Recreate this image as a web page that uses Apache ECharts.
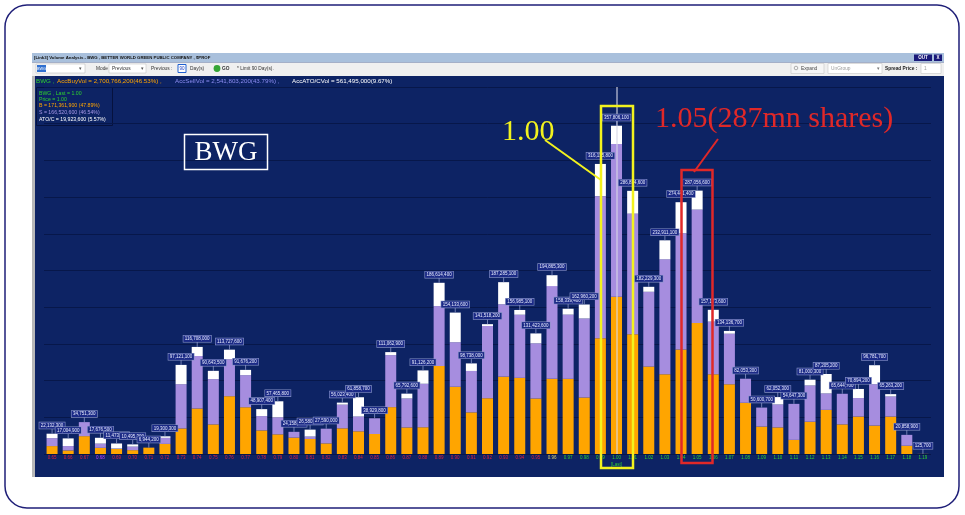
<!DOCTYPE html>
<html><head><meta charset="utf-8">
<script src="https://cdn.jsdelivr.net/npm/echarts@6/dist/echarts.min.js"></script>
<style>html,body{margin:0;padding:0;background:#fff;}#c{width:965px;height:515px;}</style>
</head><body><div id="c"></div>
<script>
// ---- data (shares, millions) ----
const prices = ['0.65','0.66','0.67','0.68','0.69','0.70','0.71','0.72','0.73','0.74','0.75','0.76','0.77','0.78','0.79','0.80','0.81','0.82','0.83','0.84','0.85','0.86','0.87','0.88','0.89','0.90','0.91','0.92','0.93','0.94','0.95','0.96','0.97','0.98','0.99','1.00','1.01','1.02','1.03','1.04','1.05','1.06','1.07','1.08','1.09','1.10','1.11','1.12','1.13','1.14','1.15','1.16','1.17','1.18','1.19'];
const buyM  = [8.63,3.91,19.46,6.72,5.5,4.2,6.944,11.0,27.87,49.6,32.27,63.0,50.97,25.73,21.43,17.88,16.38,11.59,28.01,24.74,21.8,51.09,28.95,29.16,95.9,73.3,45.4,60.8,84.3,83.0,60.5,82.0,81.9,61.6,126.1,171.3619,130.6,95.3,86.9,113.9,142.7,86.9,76.0,55.8,29.9,29.0,15.4,35.2,48.1,32.3,40.8,31.0,40.8,9.0,0.1257];
const sellM = [8.63,4.76,15.29,4.60,0.5,3.85,0,6.56,48.17,57.19,49.31,40.26,34.93,15.6,18.56,6.28,2.66,16.0,25.77,16.08,17.13,56.64,31.58,47.39,65.3,48.5,45.1,78.7,78.9,68.8,60.1,101.0,70.0,86.1,154.9,166.5206,131.4,81.5,125.3,126.7,123.7,57.4,55.1,26.25,20.7,25.0,39.25,39.5,17.9,33.34,20.2,45.1,21.9,11.86,0];
const atoM  = [4.87,8.33,0,6.36,5.47,2.45,0,1.74,21.08,9.92,9.06,10.47,5.78,7.58,17.47,0,7.54,0,2.24,21.04,0,3.33,5.26,14.58,25.41,32.33,8.24,2.02,24.09,5.19,10.82,11.87,6.44,15.26,35.14,19.9236,24.83,5.43,20.71,33.84,20.66,12.87,3.04,0,0,8.05,0,6.3,21.21,0,9.89,20.68,2.56,0,0];
const totals = [22132300,17004900,34751300,17676500,11473000,10495300,6944200,19300300,97121100,116708000,90643500,113727600,91676200,48907400,57465800,24158000,26580200,27590000,56023400,61858700,38929800,111062900,65792600,91126200,186614400,154133600,98738000,141518200,187285100,156985100,131423600,194865300,158339400,162960200,316135800,357806100,286834600,182229300,232911100,274441400,287056600,157173600,134136700,82053300,50600700,62052300,54647300,81000300,87205200,65644700,70894200,96781700,65263200,20858900,125700];
const lastPrice = '1.00';
const prevClose = 0.96;
const floorPrice = 0.68;
const accBuy = '2,700,766,200(46.53%)';
const accSell = '2,541,803,200(43.79%)';
const accAto = '561,495,000(9.67%)';

const M = 1e6;
const fmt = v => Math.round(v).toLocaleString('en-US');
const li = prices.indexOf(lastPrice);
const lb = buyM[li]*M, ls = sellM[li]*M, la = atoM[li]*M, lt = lb+ls+la;
const pct = v => (v/lt*100).toFixed(2)+'%';

const F = 'Liberation Sans';
const SERIF = 'Liberation Serif';
const NAVY = '#0d2364';

function txt(x,y,text,size,fill,extra){
  return Object.assign({type:'text',x:x,y:y,style:Object.assign({text:text,fontSize:size,fontFamily:F,fill:fill,verticalAlign:'middle'},extra||{})});
}

const bg = [
  {type:'rect',shape:{x:5,y:5,width:954,height:503,r:22},style:{fill:'none',stroke:'#1f1f78',lineWidth:1.5}},
  {type:'rect',shape:{x:32,y:53,width:912,height:424},style:{fill:NAVY}},
  {type:'rect',shape:{x:32,y:53,width:912,height:9.5},style:{fill:'#a9c0dc'}},
  {type:'rect',shape:{x:32,y:62.5,width:912,height:13.5},style:{fill:'#f0f0f0'}},
  {type:'rect',shape:{x:32,y:76,width:3,height:401},style:{fill:'#b8b8b8'}},
  txt(34,57.8,'[Link3] Volume Analysis - BWG , BETTER WORLD GREEN PUBLIC COMPANY , $PROF',4.3,'#101010',{fontWeight:'bold'}),
  {type:'rect',shape:{x:914,y:54.5,width:18,height:6.5},style:{fill:'#1a1a7a'}},
  txt(923,57.8,'OUT',4.5,'#fff',{align:'center',fontWeight:'bold'}),
  {type:'rect',shape:{x:934,y:54.5,width:8,height:6.5},style:{fill:'#1a1a7a'}},
  txt(938,57.8,'X',4.5,'#fff',{align:'center',fontWeight:'bold'}),
  // toolbar left
  {type:'rect',shape:{x:36,y:64,width:49,height:9},style:{fill:'#fff',stroke:'#c0c0c0',lineWidth:0.6}},
  {type:'rect',shape:{x:37,y:65,width:9,height:7},style:{fill:'#3070d0'}},
  txt(41.5,68.6,'BWG',3.8,'#fff',{align:'center'}),
  txt(79,68.6,'▾',5,'#555'),
  txt(96,68.6,'Mode :',4.8,'#333'),
  {type:'rect',shape:{x:109,y:64,width:37,height:9},style:{fill:'#fff',stroke:'#c8c8c8',lineWidth:0.6}},
  txt(112,68.6,'Previous',4.8,'#333'),
  txt(141,68.6,'▾',5,'#555'),
  txt(151,68.6,'Previous :',4.8,'#333'),
  {type:'rect',shape:{x:178,y:64.5,width:8,height:8},style:{fill:'#fff',stroke:'#2060d0',lineWidth:1}},
  txt(182,68.6,'90',4.5,'#2040c0',{align:'center'}),
  txt(190,68.6,'Day(s)',4.8,'#333'),
  {type:'circle',shape:{cx:217,cy:68.5,r:3.4},style:{fill:'#35a535'}},
  txt(222,68.6,'GO',4.8,'#333',{fontWeight:'bold'}),
  txt(237,68.6,'* Limit 90 Day(s).',4.8,'#333'),
  // toolbar right
  {type:'rect',shape:{x:791,y:63.5,width:33,height:10},style:{fill:'#f6f6f6',stroke:'#c8c8c8',lineWidth:0.6}},
  {type:'circle',shape:{cx:796,cy:68,r:1.8},style:{fill:'none',stroke:'#999',lineWidth:0.8}},
  txt(801,68.6,'Expand',4.8,'#444'),
  {type:'rect',shape:{x:828,y:63.5,width:54,height:10},style:{fill:'#fff',stroke:'#c8c8c8',lineWidth:0.6}},
  txt(831,68.6,'UnGroup',4.8,'#9a9a9a'),
  txt(877,68.6,'▾',5,'#777'),
  txt(885,68.6,'Spread Price :',4.8,'#222',{fontWeight:'bold'}),
  {type:'rect',shape:{x:921,y:63.5,width:20,height:10},style:{fill:'#fff',stroke:'#c8c8c8',lineWidth:0.6}},
  txt(924,68.6,'1',4.8,'#999'),
  // info line
  txt(36,81.7,'BWG ,',6.2,'#2fd02f'),
  txt(57,81.7,'AccBuyVol = '+accBuy+' ,',6.2,'#ffa500'),
  txt(175,81.7,'AccSellVol = '+accSell+' ,',6.2,'#8c8cf0'),
  txt(292,81.7,'AccATO/CVol = '+accAto,6.2,'#ffffff'),
  // legend box
  {type:'rect',shape:{x:36.5,y:87.5,width:76,height:38},style:{fill:NAVY,stroke:'#06123e',lineWidth:1}},
  txt(39,93.3,'BWG , Last = '+lastPrice,5.2,'#2fd02f'),
  txt(39,99.5,'Price = '+lastPrice,5.2,'#2fd02f'),
  txt(39,106,'B = '+fmt(lb)+' ('+pct(lb)+')',5.2,'#ffa500'),
  txt(39,112.7,'S = '+fmt(ls)+' ('+pct(ls)+')',5.2,'#a596e6'),
  txt(39,119.5,'ATO/C = '+fmt(la)+' ('+pct(la)+')',5.2,'#ffffff')
].map(e=>Object.assign(e,{z:-100,silent:true}));

const ann = [
  {type:'rect',shape:{x:184.5,y:134.5,width:83,height:35},style:{fill:'none',stroke:'#ffffff',lineWidth:1.5}},
  {type:'text',x:226,y:152.5,style:{text:'BWG',fontFamily:SERIF,fontSize:27,fill:'#fff',align:'center',verticalAlign:'middle'}},
  {type:'text',x:502,y:132,style:{text:'1.00',fontFamily:SERIF,fontSize:30,fill:'#f2f21e',verticalAlign:'middle'}},
  {type:'line',shape:{x1:545,y1:140,x2:601,y2:180},style:{stroke:'#f2f21e',lineWidth:2}},
  {type:'rect',shape:{x:601,y:106,width:32,height:362},style:{fill:'none',stroke:'#f2f21e',lineWidth:2.5}},
  {type:'text',x:655,y:119,style:{text:'1.05(287mn shares)',fontFamily:SERIF,fontSize:30,fill:'#e02828',verticalAlign:'middle'}},
  {type:'line',shape:{x1:718,y1:139,x2:694,y2:172},style:{stroke:'#e02828',lineWidth:2}},
  {type:'rect',shape:{x:681.5,y:170,width:31,height:293},style:{fill:'none',stroke:'#e02828',lineWidth:2.5}}
].map(e=>Object.assign(e,{z:100,silent:true}));

const chart = echarts.init(document.getElementById('c'));
chart.setOption({
  animation:false,
  backgroundColor:'#ffffff',
  grid:{left:44,right:34,top:87,bottom:61},
  xAxis:{
    type:'category',data:prices,
    axisLine:{show:false},axisTick:{show:false},splitLine:{show:false},
    axisLabel:{
      interval:0,margin:1.5,fontSize:4.5,fontFamily:F,
      formatter:v=>{
        const p=parseFloat(v);
        let k = p===floorPrice?'m':(p<prevClose?'r':(p===prevClose?'y':'g'));
        if(v===lastPrice) return '{g|'+v+'}\n{l|[Last]}';
        return '{'+k+'|'+v+'}';
      },
      rich:{
        r:{color:'#e0203c',fontSize:4.5,fontFamily:F},
        m:{color:'#c040ff',fontSize:4.5,fontFamily:F},
        y:{color:'#d8d070',fontSize:4.5,fontFamily:F},
        g:{color:'#30d030',fontSize:4.5,fontFamily:F},
        l:{color:'#30d030',fontSize:4.5,fontFamily:F,padding:[2,0,0,0]}
      }
    }
  },
  yAxis:{type:'value',min:0,max:400*M,interval:40*M,
    axisLabel:{show:false},axisLine:{show:false},axisTick:{show:false},
    splitLine:{lineStyle:{color:'#07174a',width:1}}},
  series:[
    {name:'Buy',type:'bar',stack:'v',barWidth:11,data:buyM.map(v=>v*M),itemStyle:{color:'#ffa500'}},
    {name:'Sell',type:'bar',stack:'v',barWidth:11,data:sellM.map(v=>v*M),itemStyle:{color:'#a68ddf'}},
    {name:'ATO/C',type:'bar',stack:'v',barWidth:11,data:atoM.map(v=>v*M),itemStyle:{color:'#ffffff'},
      markLine:{silent:true,symbol:['none','none'],label:{show:false},
        lineStyle:{color:'rgba(215,215,230,0.55)',width:2,type:'solid'},
        data:[{xAxis:lastPrice}]}},
    {name:'Total',type:'custom',z:10,data:totals.map((t,i)=>[i,t]),
      renderItem:(params,api)=>{
        const p=api.coord([api.value(0),api.value(1)]);
        return {type:'group',children:[
          {type:'line',shape:{x1:p[0],y1:p[1],x2:p[0],y2:p[1]-5},style:{stroke:'#8a96c8',lineWidth:0.8}},
          {type:'text',x:p[0],y:p[1]-5,style:{text:fmt(api.value(1)),fill:'#e8ecff',fontSize:4.5,fontFamily:F,
            align:'center',verticalAlign:'bottom',backgroundColor:'#1b2a86',borderColor:'#8a96c8',borderWidth:0.6,padding:[0.8,1.5,0.5,1.5]}}
        ]};
      }}
  ],
  graphic:{elements:bg.concat(ann)}
});
</script></body></html>
